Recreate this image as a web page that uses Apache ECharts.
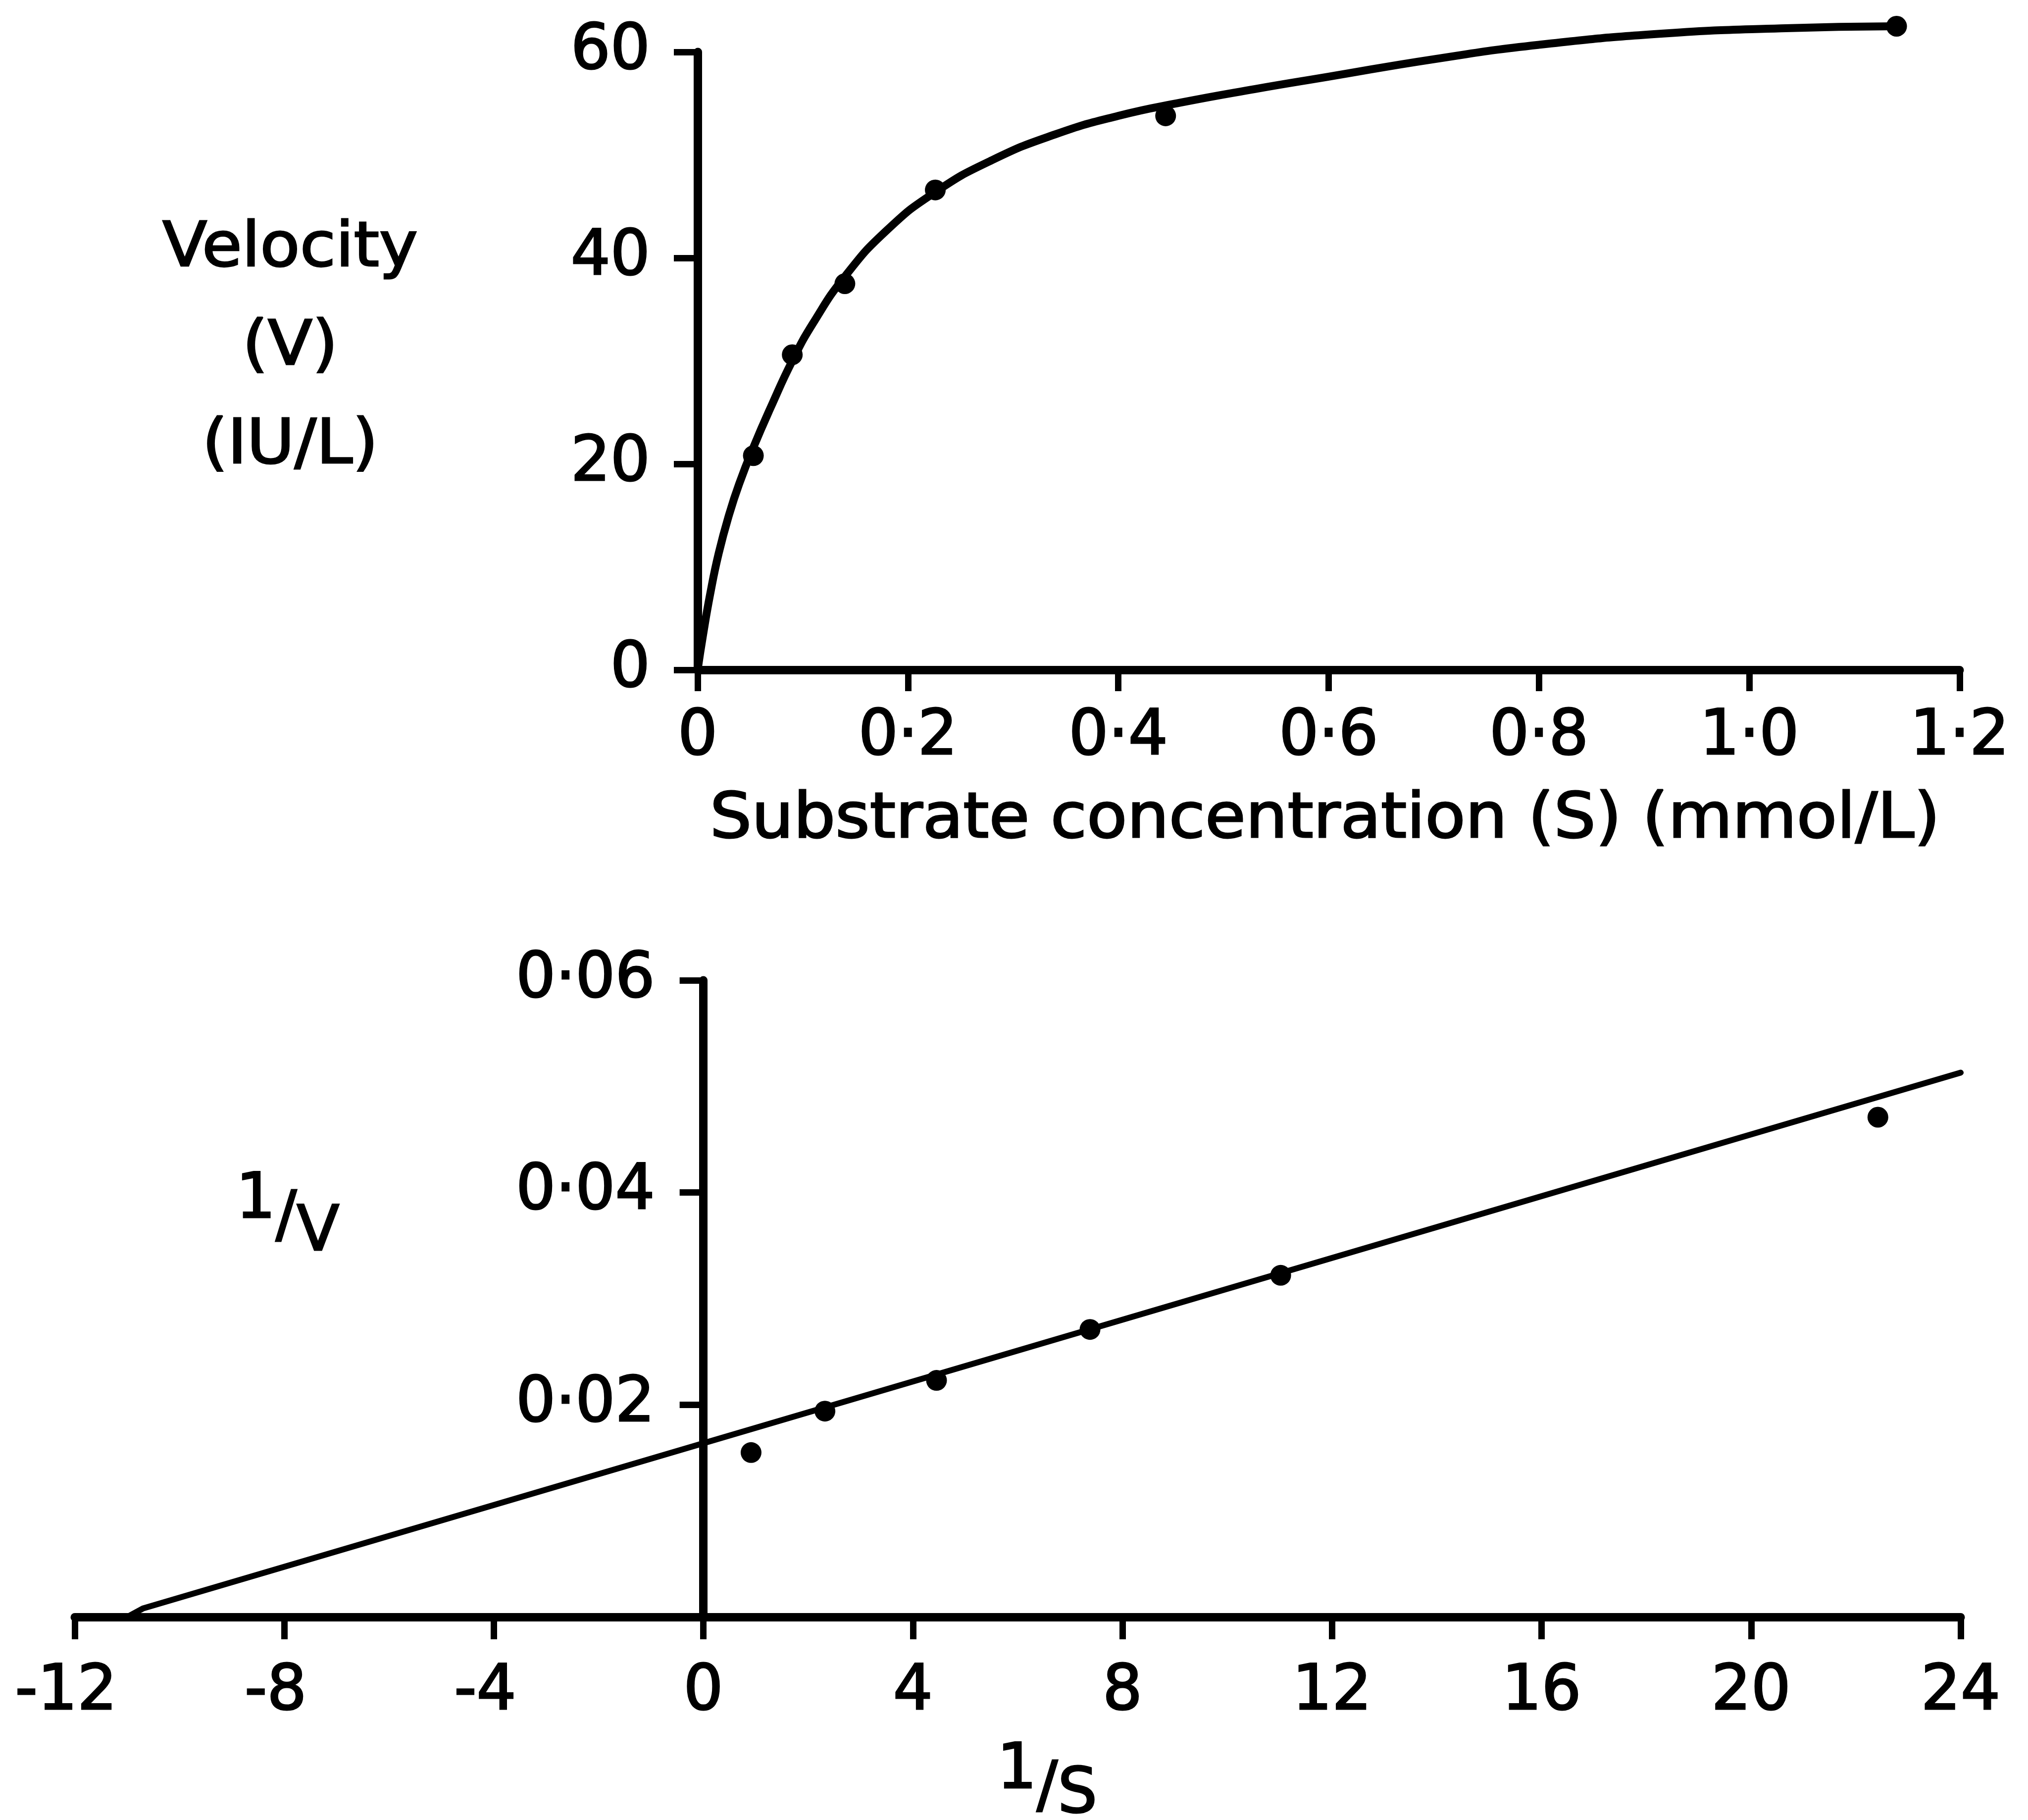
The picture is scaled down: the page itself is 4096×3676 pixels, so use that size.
<!DOCTYPE html>
<html><head><meta charset="utf-8">
<script src="https://cdn.jsdelivr.net/npm/echarts@6/dist/echarts.min.js"></script>
<style>html,body{margin:0;padding:0;background:#fff;}#c{width:4096px;height:3676px;}</style>
</head><body><div id="c"></div>
<script>
// ---- Data ----
// Top panel: Michaelis-Menten plot, V (IU/L) against S (mmol/L)
const topPointS = [0.053, 0.090, 0.140, 0.226, 0.445, 1.140];
const topPointV = [20.8, 30.6, 37.5, 46.6, 53.8, 62.5];
const topCurveS = [0, 0.005, 0.012, 0.020, 0.030, 0.040, 0.053, 0.070, 0.090, 0.110, 0.140, 0.180, 0.226, 0.280, 0.340, 0.400, 0.460, 0.530, 0.600, 0.700, 0.800, 0.920, 1.030, 1.140];
const topCurveV = [0, 3.3, 7.4, 11.3, 15.1, 18.2, 21.6, 25.6, 30.0, 33.7, 38.2, 42.7, 46.4, 49.5, 52.0, 53.8, 55.1, 56.4, 57.6, 59.3, 60.7, 61.8, 62.3, 62.5];
const topXTickLabels = ['0', '0\u00B72', '0\u00B74', '0\u00B76', '0\u00B78', '1\u00B70', '1\u00B72'];
const topYTickLabels = ['0', '20', '40', '60'];

// Bottom panel: Lineweaver-Burk plot, 1/V against 1/S
const lbPointX = [0.91, 2.32, 4.45, 7.38, 11.02, 22.42];
const lbPointY = [0.0155, 0.0194, 0.0223, 0.0271, 0.0322, 0.0471];
const lbLineX = [-11.0, -10.7, 24];
const lbLineY = [0, 0.0008, 0.0513];
const lbXTickLabels = ['-12', '-8', '-4', '0', '4', '8', '12', '16', '20', '24'];
const lbYTickLabels = ['', '0\u00B702', '0\u00B704', '0\u00B706'];

const zip = (a, b) => a.map((v, i) => [v, b[i]]);
const FONT = 'DejaVu Sans';
const INK = '#000';
const TB = 3; // text weight thickening

function makeAxis(opts) {
  return {
    type: 'value', gridIndex: opts.grid, min: opts.min, max: opts.max, interval: opts.interval,
    offset: opts.offset || 0,
    axisLine: { show: true, onZero: opts.onZero !== false, lineStyle: { color: INK, width: 17, cap: 'round' } },
    axisTick: { show: true, inside: false, length: opts.tickLen, lineStyle: { color: INK, width: 13 } },
    splitLine: { show: false }, minorTick: { show: false }, minorSplitLine: { show: false },
    axisLabel: Object.assign({ show: true, color: INK, fontFamily: FONT, fontSize: 126,
      textBorderColor: INK, textBorderWidth: TB,
      showMinLabel: true, showMaxLabel: true, hideOverlap: false }, opts.label)
  };
}

const GRID_B = { left: 151, right: 136 };
const lbPlotW = 4096 - GRID_B.left - GRID_B.right;
const lbZeroOffset = -lbPlotW * (0 - (-12)) / (24 - (-12));

const chart = echarts.init(document.getElementById('c'), null, { renderer: 'canvas' });
chart.setOption({
  animation: false,
  backgroundColor: '#fff',
  grid: [
    { left: 1409, right: 138, top: 105, bottom: 2323, containLabel: false, outerBoundsMode: 'none' },
    { left: GRID_B.left, right: GRID_B.right, top: 1980, bottom: 410, containLabel: false, outerBoundsMode: 'none' }
  ],
  xAxis: [
    makeAxis({ grid: 0, min: 0, max: 1.2, interval: 0.2, tickLen: 43,
      label: { margin: 74, formatter: v => topXTickLabels[Math.round(v / 0.2)] } }),
    makeAxis({ grid: 1, min: -12, max: 24, interval: 4, tickLen: 45,
      label: { margin: 90,
        formatter: v => { const s = lbXTickLabels[Math.round((v + 12) / 4)]; return v < 0 ? '{n|' + s + '}' : s; },
        rich: { n: { fontFamily: FONT, fontSize: 126, color: INK, textBorderColor: INK, textBorderWidth: TB, padding: [0, 35, 0, 0] } } } })
  ],
  yAxis: [
    makeAxis({ grid: 0, min: 0, max: 60, interval: 20, tickLen: 48,
      label: { margin: 96, padding: [0, 0, 26, 0], formatter: v => topYTickLabels[Math.round(v / 20)] } }),
    makeAxis({ grid: 1, min: 0, max: 0.06, interval: 0.02, tickLen: 48, onZero: false, offset: lbZeroOffset,
      label: { margin: 98, padding: [0, 0, 26, 0], formatter: v => lbYTickLabels[Math.round(v / 0.02)] } })
  ],
  series: [
    { type: 'line', xAxisIndex: 0, yAxisIndex: 0, data: zip(topCurveS, topCurveV), smooth: 0.5, clip: false,
      showSymbol: false, symbol: 'none', lineStyle: { color: INK, width: 16, cap: 'round', join: 'round' }, z: 3 },
    { type: 'scatter', xAxisIndex: 0, yAxisIndex: 0, data: zip(topPointS, topPointV), symbol: 'circle', symbolSize: 42, clip: false,
      itemStyle: { color: INK, opacity: 1 }, z: 4 },
    { type: 'line', xAxisIndex: 1, yAxisIndex: 1, data: zip(lbLineX, lbLineY), smooth: false, clip: false,
      showSymbol: false, symbol: 'none', lineStyle: { color: INK, width: 12, cap: 'round', join: 'round' }, z: 3 },
    { type: 'scatter', xAxisIndex: 1, yAxisIndex: 1, data: zip(lbPointX, lbPointY), symbol: 'circle', symbolSize: 42, clip: false,
      itemStyle: { color: INK, opacity: 1 }, z: 4 }
  ],
  graphic: [
    { type: 'text', x: 586, y: 704, scaleX: 1.06, z: 10, style: { text: 'Velocity\n(V)\n(IU/L)', fontFamily: FONT, fontSize: 124, lineHeight: 199,
      fill: INK, stroke: INK, lineWidth: TB, textAlign: 'center', textVerticalAlign: 'middle' } },
    { type: 'text', x: 2676, y: 1658, scaleX: 1.057, z: 10, style: { text: 'Substrate concentration (S) (mmol/L)', fontFamily: FONT, fontSize: 126,
      fill: INK, stroke: INK, lineWidth: TB, textAlign: 'center', textVerticalAlign: 'middle' } },
    { type: 'text', x: 581, y: 2462, z: 10, style: { text: '{a|1}{b|/}{c|V}', fill: INK, stroke: INK, lineWidth: TB, textAlign: 'center', textVerticalAlign: 'middle',
      rich: { a: { fontFamily: FONT, fontSize: 126, verticalAlign: 'middle', padding: [0, 0, 72, 0] },
              b: { fontFamily: FONT, fontSize: 126, verticalAlign: 'middle' },
              c: { fontFamily: FONT, fontSize: 126, verticalAlign: 'middle', padding: [60, 0, 0, 0] } } } },
    { type: 'text', x: 2115, y: 3614, z: 10, style: { text: '{a|1}{b|/}{c|S}', fill: INK, stroke: INK, lineWidth: TB, textAlign: 'center', textVerticalAlign: 'middle',
      rich: { a: { fontFamily: FONT, fontSize: 126, verticalAlign: 'middle', padding: [0, 0, 72, 0] },
              b: { fontFamily: FONT, fontSize: 126, verticalAlign: 'middle' },
              c: { fontFamily: FONT, fontSize: 126, verticalAlign: 'middle', padding: [26, 0, 0, 0] } } } }
  ]
});
</script>
</body></html>
